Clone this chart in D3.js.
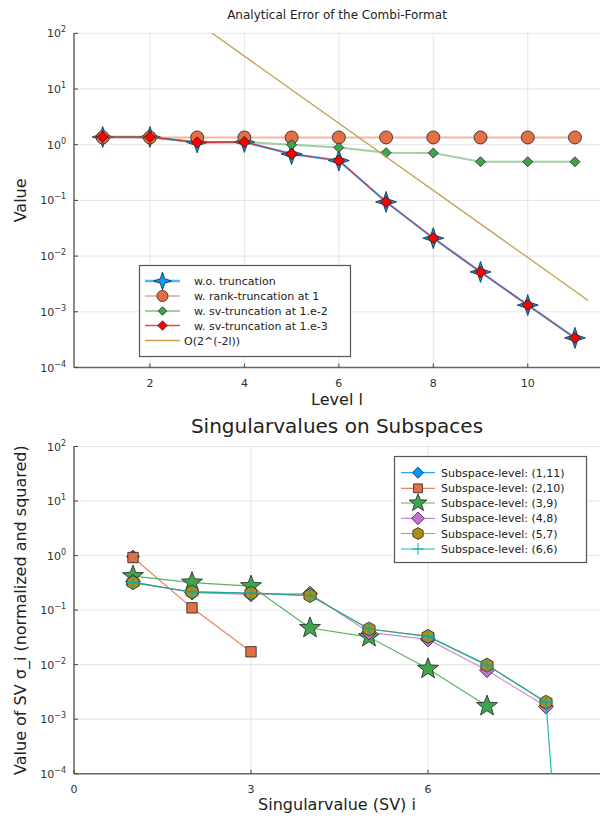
<!DOCTYPE html>
<html><head><meta charset="utf-8">
<script src="https://cdn.jsdelivr.net/npm/d3@7"></script>
<style>body{margin:0;background:#fff}svg{display:block;font-family:"DejaVu Sans",sans-serif}</style>
</head><body>
<svg id="c" width="600" height="818"></svg>
<script>
// ---------- data (top chart) ----------
const levels = [1,2,3,4,5,6,7,8,9,10,11];
const woTrunc   = [1.375,1.375,1.10,1.12,0.68,0.52,0.094,0.021,0.0052,0.00132,0.00034];
const rankTrunc = [1.35,1.35,1.35,1.35,1.35,1.35,1.35,1.35,1.35,1.35,1.35];
const svTrunc2  = [1.375,1.375,1.10,1.12,1.0,0.89,0.72,0.71,0.495,0.495,0.495];
const svTrunc3  = [1.375,1.375,1.10,1.12,0.68,0.52,0.094,0.021,0.0052,0.00132,0.00034];
const oLevels = [1, 11.28];
const oValues = [2500, 0.0016];
const topYTicks = [1e-4,1e-3,1e-2,1e-1,1e0,1e1,1e2];
const topXTicks = [2,4,6,8,10];
const topLabels = [" w.o. truncation"," w. rank-truncation at 1"," w. sv-truncation at 1.e-2"," w. sv-truncation at 1.e-3","O(2^(-2l))"];

// ---------- data (bottom chart) ----------
const svIndex = [1,2,3,4,5,6,7,8,9];
const sv1_11 = [0.96];
const sv2_10 = [0.92,0.11,0.0172];
const sv3_9  = [0.42,0.32,0.275,0.047,0.032,0.0084,0.00174];
const sv4_8  = [0.33,0.21,0.195,0.20,0.039,0.029,0.0079,0.0017];
const sv5_7  = [0.32,0.215,0.205,0.185,0.045,0.033,0.0098,0.00205];
const sv6_6  = [0.32,0.215,0.205,0.185,0.045,0.033,0.0098,0.00205,1e-17];
const botYTicks = [1e-4,1e-3,1e-2,1e-1,1e0,1e1,1e2];
const botXTicks = [0,3,6];
const botLabels = ["Subspace-level: (1,11)","Subspace-level: (2,10)","Subspace-level: (3,9)","Subspace-level: (4,8)","Subspace-level: (5,7)","Subspace-level: (6,6)"];

// ---------- helpers ----------
const svg = d3.select("#c");
const C = {blue:"#009AFA",orange:"#E36F47",green:"#3EA44E",purple:"#C371D2",olive:"#AC8E18",cyan:"#00AAAE",red:"#FF0000"};

function starPath(n, ro, ri, rot){
  const p=[]; for(let k=0;k<2*n;k++){const a=rot+Math.PI*k/n; const r=k%2?ri:ro; p.push([r*Math.cos(a), r*Math.sin(a)]);}
  return "M"+p.map(q=>q[0].toFixed(2)+","+q[1].toFixed(2)).join("L")+"Z";
}
function polyPath(n, r, rot){
  const p=[]; for(let k=0;k<n;k++){const a=rot+2*Math.PI*k/n; p.push([r*Math.cos(a), r*Math.sin(a)]);}
  return "M"+p.map(q=>q[0].toFixed(2)+","+q[1].toFixed(2)).join("L")+"Z";
}
function marker(g, type, x, y, size, fill){
  let d, stroke="#222", sw=0.8, f=fill;
  if(type==="star4") d=starPath(4,size,size*0.36,-Math.PI/2);
  else if(type==="star5") d=starPath(5,size,size*0.42,-Math.PI/2);
  else if(type==="circle") d=d3.symbol(d3.symbolCircle, Math.PI*size*size)();
  else if(type==="diamond") d=polyPath(4,size,-Math.PI/2);
  else if(type==="square") d=`M${-size},${-size}H${size}V${size}H${-size}Z`;
  else if(type==="hexagon") d=polyPath(6,size,-Math.PI/2);
  else if(type==="cross"){ d=`M${-size},0H${size}M0,${-size}V${size}`; stroke=fill; f="none"; sw=1; }
  g.append("path").attr("d",d).attr("transform",`translate(${x},${y})`)
    .attr("fill",f).attr("stroke",stroke).attr("stroke-width",sw);
}
function logTickLabel(g, x, y, v, anchor){
  const e = Math.round(Math.log10(v));
  const t = g.append("text").attr("x",x).attr("y",y).attr("text-anchor",anchor||"end")
    .attr("font-size",11).attr("fill","#333");
  t.append("tspan").text("10");
  t.append("tspan").attr("dy",-5).attr("font-size",8).text(e<0? "\u2212"+(-e): String(e));
}
function frame(id, xs, ys, xt, yt, x0, x1, y0, y1){
  const g = svg.append("g");
  xt.forEach(t=>g.append("line").attr("x1",xs(t)).attr("x2",xs(t)).attr("y1",y0).attr("y2",y1).attr("stroke","#000").attr("stroke-opacity",0.1).attr("stroke-width",1));
  yt.forEach(t=>g.append("line").attr("x1",x0).attr("x2",x1).attr("y1",ys(t)).attr("y2",ys(t)).attr("stroke","#000").attr("stroke-opacity",0.1).attr("stroke-width",1));
  g.append("line").attr("x1",x0).attr("x2",x0).attr("y1",y0).attr("y2",y1).attr("stroke","#666").attr("stroke-width",1.5);
  g.append("line").attr("x1",x0).attr("x2",x1).attr("y1",y1).attr("y2",y1).attr("stroke","#666").attr("stroke-width",1.5);
  xt.forEach(t=>g.append("line").attr("x1",xs(t)).attr("x2",xs(t)).attr("y1",y1).attr("y2",y1-4).attr("stroke","#444").attr("stroke-width",1));
  yt.forEach(t=>g.append("line").attr("x1",x0).attr("x2",x0+4).attr("y1",ys(t)).attr("y2",ys(t)).attr("stroke","#444").attr("stroke-width",1));
  yt.forEach(t=>logTickLabel(g, x0-8, ys(t)+4, t));
  xt.forEach(t=>g.append("text").attr("x",xs(t)).attr("y",y1+19).attr("text-anchor","middle").attr("font-size",11).attr("fill","#333").text(t));
  svg.append("clipPath").attr("id",id).append("rect").attr("x",x0).attr("y",y0).attr("width",x1-x0).attr("height",y1-y0);
  return svg.append("g").attr("clip-path",`url(#${id})`);
}

// ---------- top chart ----------
const tx0=74, tx1=600, ty0=33.3, ty1=367.5;
const xT = d3.scaleLinear().domain([0.392, 11.53]).range([tx0, tx1]);
const yT = d3.scaleLog().domain([1e-4, 1e2]).range([ty1, ty0]);
const pT = frame("clipT", xT, yT, topXTicks, topYTicks, tx0, tx1, ty0, ty1);
const lineT = d3.line().x(d=>xT(d[0])).y(d=>yT(d[1]));
const topSeries = [
  {vals:woTrunc, color:C.blue, mk:"star4", size:10.5, mfill:C.blue, op:0.7, w:2.4},
  {vals:rankTrunc, color:C.orange, mk:"circle", size:6.5, mfill:C.orange, op:0.5, w:2},
  {vals:svTrunc2, color:C.green, mk:"diamond", size:5, mfill:C.green, op:0.5, w:2},
  {vals:svTrunc3, color:C.red, mk:"diamond", size:5.5, mfill:C.red, op:0.75, w:1.1}
];
topSeries.forEach(s=>{
  const pts = levels.map((l,i)=>[l, s.vals[i]]);
  pT.append("path").attr("d",lineT(pts)).attr("fill","none").attr("stroke",s.color).attr("stroke-opacity",s.op).attr("stroke-width",s.w);
  pts.forEach(p=>marker(pT, s.mk, xT(p[0]), yT(p[1]), s.size, s.mfill));
});
pT.append("path").attr("d",lineT(oLevels.map((l,i)=>[l,oValues[i]]))).attr("fill","none").attr("stroke","#C0A24A").attr("stroke-width",1.3);

svg.append("text").attr("x",(tx0+tx1)/2).attr("y",19).attr("text-anchor","middle").attr("font-size",12).attr("fill","#222").text("Analytical Error of the Combi-Format");
svg.append("text").attr("x",(tx0+tx1)/2).attr("y",405).attr("text-anchor","middle").attr("font-size",16).attr("fill","#222").text("Level l");
svg.append("text").attr("transform",`translate(26,${(ty0+ty1)/2}) rotate(-90)`).attr("text-anchor","middle").attr("font-size",16).attr("fill","#222").text("Value");

// top legend
{
  const g = svg.append("g");
  g.append("rect").attr("x",139.5).attr("y",265.5).attr("width",211).attr("height",91).attr("fill","#fff").attr("stroke","#555").attr("stroke-width",1.2);
  const ys=[281,296,311,325.5,340.5];
  const lc=[C.blue,C.orange,C.green,C.red,"#C0A24A"];
  topLabels.forEach((lab,i)=>{
    const s=topSeries[i];
    g.append("line").attr("x1",145).attr("x2",180).attr("y1",ys[i]).attr("y2",ys[i]).attr("stroke",lc[i]).attr("stroke-opacity",s?s.op:1).attr("stroke-width",s?Math.max(s.w,1.6):1.3);
    if(s) marker(g, s.mk, 162.5, ys[i], s.size*0.85, s.mfill);
    const lead = lab.startsWith(" ");
    g.append("text").attr("x",lead?194:184).attr("y",ys[i]+4).attr("font-size",11).attr("fill","#222").text(lab.trim());
  });
}

// ---------- bottom chart ----------
const bx0=74, bx1=600, by0=446.5, by1=773.7;
const xB = d3.scaleLinear().domain([0, 8.915]).range([bx0, bx1]);
const yB = d3.scaleLog().domain([1e-4, 1e2]).range([by1, by0]);
const pB = frame("clipB", xB, yB, botXTicks, botYTicks, bx0, bx1, by0, by1);
const lineB = d3.line().x(d=>xB(d[0])).y(d=>yB(d[1]));
const botSeries = [
  {vals:sv1_11, color:C.blue, mk:"diamond", size:6.5},
  {vals:sv2_10, color:C.orange, mk:"square", size:5.2},
  {vals:sv3_9, color:C.green, mk:"star5", size:11},
  {vals:sv4_8, color:C.purple, mk:"diamond", size:7.5},
  {vals:sv5_7, color:C.olive, mk:"hexagon", size:7},
  {vals:sv6_6, color:C.cyan, mk:"cross", size:7}
];
botSeries.forEach(s=>{
  const pts = s.vals.map((v,i)=>[svIndex[i], v]);
  pB.append("path").attr("d",lineB(pts)).attr("fill","none").attr("stroke",s.color).attr("stroke-opacity",0.85).attr("stroke-width",1.2);
  pts.forEach(p=>marker(pB, s.mk, xB(p[0]), yB(p[1]), s.size, s.color));
});
svg.append("text").attr("x",(bx0+bx1)/2).attr("y",433).attr("text-anchor","middle").attr("font-size",20).attr("fill","#222").text("Singularvalues on Subspaces");
svg.append("text").attr("x",(bx0+bx1)/2).attr("y",810).attr("text-anchor","middle").attr("font-size",16).attr("fill","#222").text("Singularvalue (SV) i");
svg.append("text").attr("transform",`translate(26,${(by0+by1)/2}) rotate(-90)`).attr("text-anchor","middle").attr("font-size",16).attr("fill","#222").text("Value of SV \u03c3_i (normalized and squared)");

// bottom legend
{
  const g = svg.append("g");
  g.append("rect").attr("x",394.5).attr("y",456.5).attr("width",192).attr("height",106).attr("fill","#fff").attr("stroke","#555").attr("stroke-width",1.2);
  const ys=[472.7,488.3,503,518.3,533.5,549];
  botLabels.forEach((lab,i)=>{
    const s=botSeries[i];
    g.append("line").attr("x1",401).attr("x2",435).attr("y1",ys[i]).attr("y2",ys[i]).attr("stroke",s.color).attr("stroke-opacity",0.85).attr("stroke-width",1.2);
    marker(g, s.mk, 418, ys[i], s.size*0.85, s.color);
    g.append("text").attr("x",441).attr("y",ys[i]+4).attr("font-size",11).attr("fill","#222").text(lab);
  });
}
</script>
</body></html>
